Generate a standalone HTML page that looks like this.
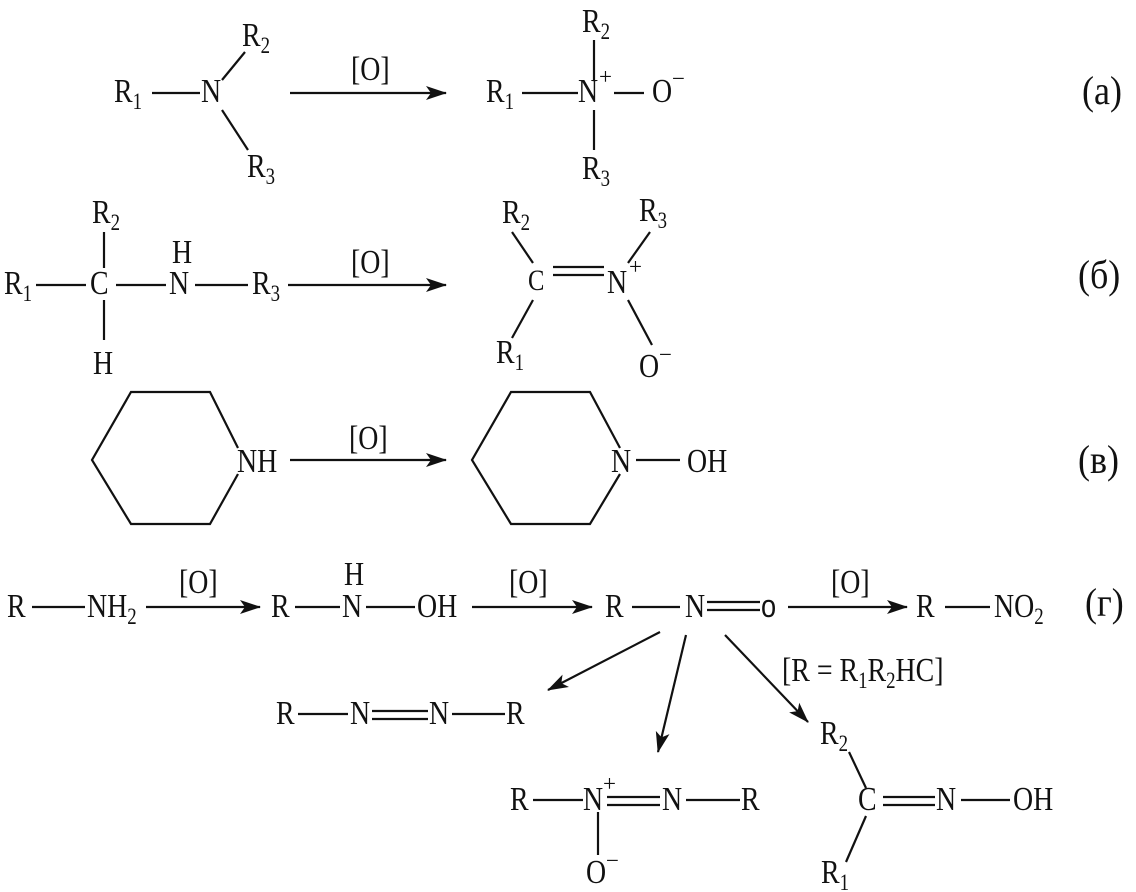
<!DOCTYPE html>
<html><head><meta charset="utf-8"><style>
html,body{margin:0;padding:0;background:#fff}
svg{display:block}
text{font-family:"Liberation Serif","Times New Roman",serif;font-size:34px;fill:#111}
.s{font-size:23px}
line,polyline{stroke:#111;stroke-width:2.2;fill:none}
</style></head><body>
<svg width="1136" height="892" viewBox="0 0 1136 892" xmlns="http://www.w3.org/2000/svg">
<defs><marker id="a" markerWidth="22" markerHeight="16" refX="20" refY="8" orient="auto" markerUnits="userSpaceOnUse"><path d="M0,1 L21,8 L0,15 L5,8 Z" fill="#111"/></marker></defs>

<!-- (a) -->
<g transform="translate(114,102) scale(.82,1)"><text>R<tspan class="s" dy="7">1</tspan></text></g>
<line x1="152" y1="93" x2="200" y2="93"/>
<g transform="translate(201,102) scale(.82,1)"><text>N</text></g>
<g transform="translate(242,46) scale(.82,1)"><text>R<tspan class="s" dy="7">2</tspan></text></g>
<line x1="222" y1="80" x2="245" y2="52"/>
<g transform="translate(247,177) scale(.82,1)"><text>R<tspan class="s" dy="7">3</tspan></text></g>
<line x1="222" y1="110" x2="248" y2="150"/>
<line x1="290" y1="93" x2="446" y2="93" marker-end="url(#a)"/>
<g transform="translate(351,80) scale(.82,1)"><text>[O]</text></g>
<g transform="translate(486,102) scale(.82,1)"><text>R<tspan class="s" dy="7">1</tspan></text></g>
<line x1="522" y1="93" x2="578" y2="93"/>
<g transform="translate(578,102) scale(.82,1)"><text>N</text></g>
<text x="599" y="84" class="s">+</text>
<line x1="614" y1="93" x2="644" y2="93"/>
<g transform="translate(652,102) scale(.82,1)"><text>O</text></g>
<text x="672" y="86" class="s">−</text>
<g transform="translate(582,32) scale(.82,1)"><text>R<tspan class="s" dy="7">2</tspan></text></g>
<line x1="594" y1="40" x2="594" y2="80"/>
<g transform="translate(582,179) scale(.82,1)"><text>R<tspan class="s" dy="7">3</tspan></text></g>
<line x1="594" y1="110" x2="594" y2="150"/>
<g transform="translate(1082,104) scale(.9,1)"><text style="font-size:40px">(а)</text></g>

<!-- (б) -->
<g transform="translate(4,294) scale(.82,1)"><text>R<tspan class="s" dy="7">1</tspan></text></g>
<line x1="36" y1="285" x2="86" y2="285"/>
<g transform="translate(90,294) scale(.82,1)"><text>C</text></g>
<line x1="116" y1="285" x2="166" y2="285"/>
<g transform="translate(169,294) scale(.82,1)"><text>N</text></g>
<g transform="translate(172,263) scale(.82,1)"><text>H</text></g>
<line x1="195" y1="285" x2="248" y2="285"/>
<g transform="translate(252,294) scale(.82,1)"><text>R<tspan class="s" dy="7">3</tspan></text></g>
<g transform="translate(92,223) scale(.82,1)"><text>R<tspan class="s" dy="7">2</tspan></text></g>
<line x1="104" y1="232" x2="104" y2="268"/>
<line x1="104" y1="300" x2="104" y2="340"/>
<g transform="translate(93,374) scale(.82,1)"><text>H</text></g>
<line x1="288" y1="285" x2="446" y2="285" marker-end="url(#a)"/>
<g transform="translate(351,273) scale(.82,1)"><text>[O]</text></g>
<g transform="translate(502,223) scale(.82,1)"><text>R<tspan class="s" dy="7">2</tspan></text></g>
<line x1="512" y1="232" x2="533" y2="263"/>
<g transform="translate(528,290) scale(.82,1)"><text style="font-size:30px">C</text></g>
<line x1="553" y1="267" x2="604" y2="267"/>
<line x1="553" y1="275" x2="604" y2="275"/>
<g transform="translate(607,293) scale(.82,1)"><text>N</text></g>
<text x="629" y="274" class="s">+</text>
<g transform="translate(639,221) scale(.82,1)"><text>R<tspan class="s" dy="7">3</tspan></text></g>
<line x1="650" y1="232" x2="628" y2="263"/>
<line x1="628" y1="300" x2="652" y2="345"/>
<g transform="translate(639,377) scale(.82,1)"><text>O</text></g>
<text x="659" y="362" class="s">−</text>
<g transform="translate(496,363) scale(.82,1)"><text>R<tspan class="s" dy="7">1</tspan></text></g>
<line x1="533" y1="300" x2="512" y2="338"/>
<g transform="translate(1078,288) scale(.9,1)"><text style="font-size:40px">(б)</text></g>

<!-- (в) -->
<polyline points="238,448 210,392 131,392 92,460 131,524 210,524 238,474"/>
<g transform="translate(237,472) scale(.82,1)"><text>NH</text></g>
<line x1="290" y1="460" x2="446" y2="460" marker-end="url(#a)"/>
<g transform="translate(349,449) scale(.82,1)"><text>[O]</text></g>
<polyline points="620,448 590,392 511,392 472,460 511,524 590,524 620,474"/>
<g transform="translate(611,472) scale(.82,1)"><text>N</text></g>
<line x1="636" y1="460" x2="680" y2="460"/>
<g transform="translate(687,472) scale(.82,1)"><text>OH</text></g>
<g transform="translate(1078,473) scale(.9,1)"><text style="font-size:40px">(в)</text></g>

<!-- (г) -->
<g transform="translate(7,617) scale(.82,1)"><text>R</text></g>
<line x1="32" y1="607" x2="85" y2="607"/>
<g transform="translate(87,617) scale(.82,1)"><text>NH<tspan class="s" dy="7">2</tspan></text></g>
<line x1="146" y1="607" x2="260" y2="607" marker-end="url(#a)"/>
<g transform="translate(179,593) scale(.82,1)"><text>[O]</text></g>
<g transform="translate(271,617) scale(.82,1)"><text>R</text></g>
<line x1="295" y1="607" x2="340" y2="607"/>
<g transform="translate(342,617) scale(.82,1)"><text>N</text></g>
<g transform="translate(344,585) scale(.82,1)"><text>H</text></g>
<line x1="366" y1="607" x2="415" y2="607"/>
<g transform="translate(417,617) scale(.82,1)"><text>OH</text></g>
<line x1="472" y1="607" x2="592" y2="607" marker-end="url(#a)"/>
<g transform="translate(509,593) scale(.82,1)"><text>[O]</text></g>
<g transform="translate(605,617) scale(.82,1)"><text>R</text></g>
<line x1="632" y1="607" x2="680" y2="607"/>
<g transform="translate(685,617) scale(.82,1)"><text>N</text></g>
<line x1="707" y1="602" x2="760" y2="602"/>
<line x1="707" y1="610" x2="760" y2="610"/>
<g transform="translate(761,617) scale(.85,1)"><text style="font-size:32px;font-family:'Liberation Sans',sans-serif">o</text></g>
<line x1="788" y1="607" x2="907" y2="607" marker-end="url(#a)"/>
<g transform="translate(831,593) scale(.82,1)"><text>[O]</text></g>
<g transform="translate(916,617) scale(.82,1)"><text>R</text></g>
<line x1="945" y1="607" x2="990" y2="607"/>
<g transform="translate(994,617) scale(.82,1)"><text>NO<tspan class="s" dy="7">2</tspan></text></g>
<g transform="translate(1085,616) scale(.9,1)"><text style="font-size:40px">(г)</text></g>

<line x1="660" y1="632" x2="548" y2="690" marker-end="url(#a)"/>
<line x1="686" y1="635" x2="658" y2="752" marker-end="url(#a)"/>
<line x1="725" y1="635" x2="808" y2="722" marker-end="url(#a)"/>
<g transform="translate(782,681) scale(.82,1)"><text>[R = R<tspan class="s" dy="7">1</tspan><tspan dy="-7">R</tspan><tspan class="s" dy="7">2</tspan><tspan dy="-7">HC]</tspan></text></g>

<g transform="translate(276,724) scale(.82,1)"><text>R</text></g>
<line x1="298" y1="714" x2="348" y2="714"/>
<g transform="translate(350,724) scale(.82,1)"><text>N</text></g>
<line x1="372" y1="711" x2="428" y2="711"/>
<line x1="372" y1="719" x2="428" y2="719"/>
<g transform="translate(429,724) scale(.82,1)"><text>N</text></g>
<line x1="452" y1="714" x2="505" y2="714"/>
<g transform="translate(506,724) scale(.82,1)"><text>R</text></g>

<g transform="translate(510,810) scale(.82,1)"><text>R</text></g>
<line x1="533" y1="800" x2="583" y2="800"/>
<g transform="translate(583,810) scale(.82,1)"><text>N</text></g>
<text x="603" y="791" class="s">+</text>
<line x1="607" y1="797" x2="660" y2="797"/>
<line x1="607" y1="805" x2="660" y2="805"/>
<g transform="translate(662,810) scale(.82,1)"><text>N</text></g>
<line x1="686" y1="800" x2="740" y2="800"/>
<g transform="translate(741,810) scale(.82,1)"><text>R</text></g>
<line x1="598" y1="812" x2="598" y2="855"/>
<g transform="translate(586,883) scale(.82,1)"><text>O</text></g>
<text x="606" y="868" class="s">−</text>

<g transform="translate(820,744) scale(.82,1)"><text>R<tspan class="s" dy="7">2</tspan></text></g>
<line x1="849" y1="752" x2="866" y2="788"/>
<g transform="translate(858,810) scale(.82,1)"><text>C</text></g>
<line x1="883" y1="797" x2="935" y2="797"/>
<line x1="883" y1="805" x2="935" y2="805"/>
<g transform="translate(936,810) scale(.82,1)"><text>N</text></g>
<line x1="961" y1="800" x2="1010" y2="800"/>
<g transform="translate(1013,810) scale(.82,1)"><text>OH</text></g>
<line x1="866" y1="816" x2="846" y2="862"/>
<g transform="translate(821,883) scale(.82,1)"><text>R<tspan class="s" dy="7">1</tspan></text></g>
</svg>
</body></html>
